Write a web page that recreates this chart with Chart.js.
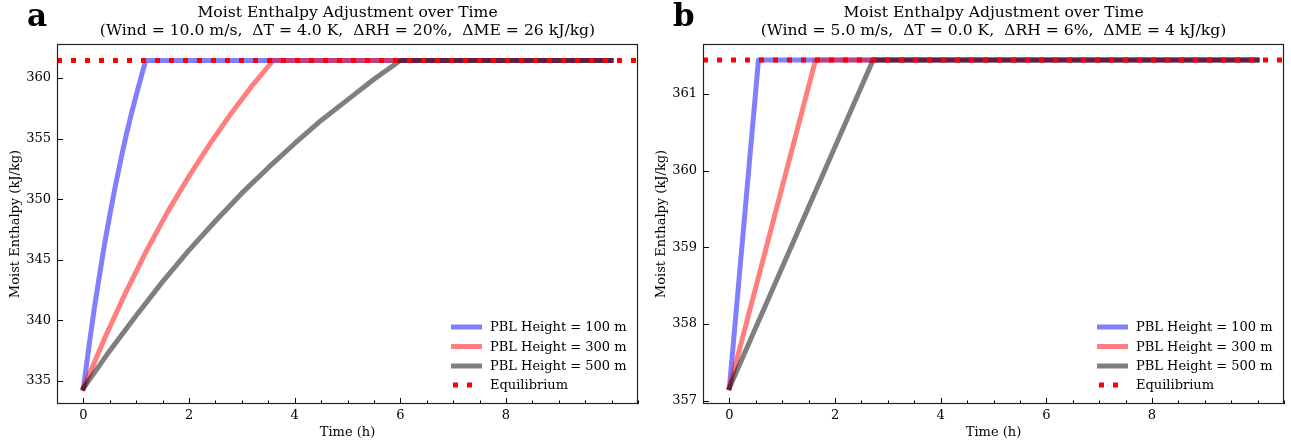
<!DOCTYPE html>
<html>
<head>
<meta charset="utf-8">
<script src="https://cdn.jsdelivr.net/npm/chart.js@4.4.0/dist/chart.umd.min.js"></script>
<style>
  body { margin: 0; background: #fff; }
  .wrap { display: flex; width: 1291px; height: 447px; }
  canvas { display: block; }
</style>
</head>
<body>
<div class="wrap">
  <canvas id="chart-a" width="645" height="447"></canvas>
  <canvas id="chart-b" width="646" height="447"></canvas>
</div>
<script>
// ---- panel a : wind 10 m/s ----
const timeA100 = [0, 0.1, 0.2, 0.3, 0.4, 0.5, 0.6, 0.7, 0.8, 0.9, 1.0, 1.1, 1.18, 9.99];
const meA100   = [334.4, 337.7, 340.8, 343.6, 346.3, 348.7, 351.0, 353.1, 355.1, 356.9, 358.6, 360.2, 361.45, 361.45];
const timeA300 = [0, 0.4, 0.8, 1.2, 1.6, 2.0, 2.4, 2.8, 3.2, 3.59, 9.99];
const meA300   = [334.4, 338.5, 342.3, 345.8, 349.0, 351.9, 354.6, 357.1, 359.4, 361.45, 361.45];
const timeA500 = [0, 0.5, 1.0, 1.5, 2.0, 2.5, 3.0, 3.5, 4.0, 4.5, 5.0, 5.5, 6.0, 9.99];
const meA500   = [334.4, 337.5, 340.4, 343.2, 345.8, 348.2, 350.5, 352.6, 354.6, 356.5, 358.2, 359.9, 361.45, 361.45];
const eqA = 361.45;

// ---- panel b : wind 5 m/s ----
const timeB100 = [0, 0.55, 9.99];
const meB100   = [357.17, 361.44, 361.44];
const timeB300 = [0, 1.63, 9.99];
const meB300   = [357.17, 361.44, 361.44];
const timeB500 = [0, 2.72, 9.99];
const meB500   = [357.17, 361.44, 361.44];
const eqB = 361.44;

const xTickValues = [0, 2, 4, 6, 8];
const seriesLabels = ['PBL Height = 100 m', 'PBL Height = 300 m', 'PBL Height = 500 m', 'Equilibrium'];

const serif = "'DejaVu Serif', serif";

function pts(ts, vs) {
    return ts.map((t, i) => ({ x: t, y: vs[i] }))
}

function curve(label, color, data, order) {
    return {
        label: label,
        data: data,
        borderColor: color,
        backgroundColor: color,
        borderWidth: 5,
        borderCapStyle: 'square',
        borderJoinStyle: 'round',
        pointRadius: 0,
        tension: 0,
        order: order
    }
}

// ticks pointing inwards + full box around the axes
const frameTicks = {
    id: 'frameTicks',
    afterDraw(chart) {
        const { ctx, chartArea: a, scales: { x, y } } = chart;
        ctx.save();
        ctx.strokeStyle = '#000';
        ctx.lineWidth = 1;
        ctx.beginPath();
        x.ticks.forEach(t => {
            const px = Math.round(x.getPixelForValue(t.value)) + 0.5;
            ctx.moveTo(px, a.bottom);
            ctx.lineTo(px, a.bottom - 6);
        });
        for (let v = x.min; v <= x.max + 1e-6; v += 0.5) {
            if (xTickValues.some(m => Math.abs(m - v) < 1e-6)) continue;
            const px = Math.round(x.getPixelForValue(v)) + 0.5;
            ctx.moveTo(px, a.bottom);
            ctx.lineTo(px, a.bottom - 3.5);
        }
        y.ticks.forEach(t => {
            const py = Math.round(y.getPixelForValue(t.value)) + 0.5;
            ctx.moveTo(a.left, py);
            ctx.lineTo(a.left + 6, py);
        });
        ctx.stroke();
        ctx.strokeStyle = '#222';
        ctx.lineWidth = 1.2;
        ctx.strokeRect(a.left + 0.5, a.top + 0.5, a.right - a.left - 1, a.bottom - a.top - 1);
        ctx.restore();
    }
};

// two-line title and the bold panel letter
const headings = {
    id: 'headings',
    afterDraw(chart, args, opts) {
        const { ctx, chartArea: a } = chart;
        const cx = (a.left + a.right) / 2;
        ctx.save();
        ctx.fillStyle = '#000';
        ctx.textAlign = 'center';
        ctx.textBaseline = 'alphabetic';
        ctx.font = '15.6px ' + serif;
        ctx.fillText(opts.lines[0], cx, 17);
        ctx.fillText(opts.lines[1], cx, 35);
        ctx.textAlign = 'left';
        ctx.font = 'bold 31px ' + serif;
        ctx.fillText(opts.letter, a.left - 30, 26);
        ctx.restore();
    }
};

// legend in the lower right corner, no frame
const cornerLegend = {
    id: 'cornerLegend',
    afterDraw(chart) {
        const { ctx, chartArea: a } = chart;
        const rows = [77, 57.5, 38, 19];
        ctx.save();
        ctx.font = '13px ' + serif;
        ctx.textBaseline = 'middle';
        ctx.textAlign = 'left';
        chart.data.datasets.forEach((ds, i) => {
            const yy = a.bottom - rows[i];
            const x0 = a.right - 187;
            ctx.beginPath();
            ctx.strokeStyle = ds.borderColor;
            ctx.lineWidth = ds.borderWidth;
            if (ds.borderDash) {
                ctx.setLineDash(ds.borderDash);
                ctx.moveTo(x0 + 2, yy);
                ctx.lineTo(x0 + 26, yy);
            } else {
                ctx.setLineDash([]);
                ctx.moveTo(x0, yy);
                ctx.lineTo(x0 + 31, yy);
            }
            ctx.stroke();
            ctx.setLineDash([]);
            ctx.fillStyle = '#000';
            ctx.fillText(ds.label, a.right - 148, yy + 1);
        });
        ctx.restore();
    }
};

function makeChart(id, datasets, yMin, yMax, yStep, lines, letter, padLeft) {
    return new Chart(document.getElementById(id), {
        type: 'line',
        data: { datasets: datasets },
        options: {
            responsive: false,
            animation: false,
            devicePixelRatio: 1,
            layout: { padding: { left: padLeft, right: 7, top: 44, bottom: 0 } },
            plugins: {
                legend: { display: false },
                tooltip: { enabled: false },
                headings: { lines: lines, letter: letter }
            },
            scales: {
                x: {
                    type: 'linear',
                    min: -0.5,
                    max: 10.5,
                    afterFit: s => { s.height = 43 },
                    afterBuildTicks: s => { s.ticks = xTickValues.map(v => ({ value: v })) },
                    grid: { display: false, drawTicks: false },
                    border: { display: false },
                    ticks: { padding: 4, color: '#000', font: { family: serif, size: 13 } },
                    title: { display: true, text: 'Time (h)', color: '#000', font: { family: serif, size: 13 }, padding: { bottom: 7 } }
                },
                y: {
                    min: yMin,
                    max: yMax,
                    afterFit: s => { s.width = 57 },
                    grid: { display: false, drawTicks: false },
                    border: { display: false },
                    ticks: { stepSize: yStep, includeBounds: false, padding: 6, color: '#000', font: { family: serif, size: 13 } },
                    title: { display: true, text: 'Moist Enthalpy (kJ/kg)', color: '#000', font: { family: serif, size: 13 }, padding: { top: 8 } }
                }
            }
        },
        plugins: [frameTicks, headings, cornerLegend]
    });
}

const eqDash = [5, 9];

makeChart('chart-a', [
    curve(seriesLabels[0], 'rgba(0,0,255,0.5)', pts(timeA100, meA100), 4),
    curve(seriesLabels[1], 'rgba(255,0,0,0.5)', pts(timeA300, meA300), 3),
    curve(seriesLabels[2], 'rgba(0,0,0,0.5)', pts(timeA500, meA500), 2),
    Object.assign(curve(seriesLabels[3], 'red', pts([-0.5, 10.5], [eqA, eqA]), 1), { borderDash: eqDash, borderCapStyle: 'butt' })
], 333.1, 362.81, 5,
    ['Moist Enthalpy Adjustment over Time', '(Wind = 10.0 m/s,  \u0394T = 4.0 K,  \u0394RH = 20%,  \u0394ME = 26 kJ/kg)'], 'a', 0);

makeChart('chart-b', [
    curve(seriesLabels[0], 'rgba(0,0,255,0.5)', pts(timeB100, meB100), 4),
    curve(seriesLabels[1], 'rgba(255,0,0,0.5)', pts(timeB300, meB300), 3),
    curve(seriesLabels[2], 'rgba(0,0,0,0.5)', pts(timeB500, meB500), 2),
    Object.assign(curve(seriesLabels[3], 'red', pts([-0.5, 10.5], [eqB, eqB]), 1), { borderDash: eqDash, borderCapStyle: 'butt' })
], 356.957, 361.65, 1,
    ['Moist Enthalpy Adjustment over Time', '(Wind = 5.0 m/s,  \u0394T = 0.0 K,  \u0394RH = 6%,  \u0394ME = 4 kJ/kg)'], 'b', 1);
</script>
</body>
</html>
